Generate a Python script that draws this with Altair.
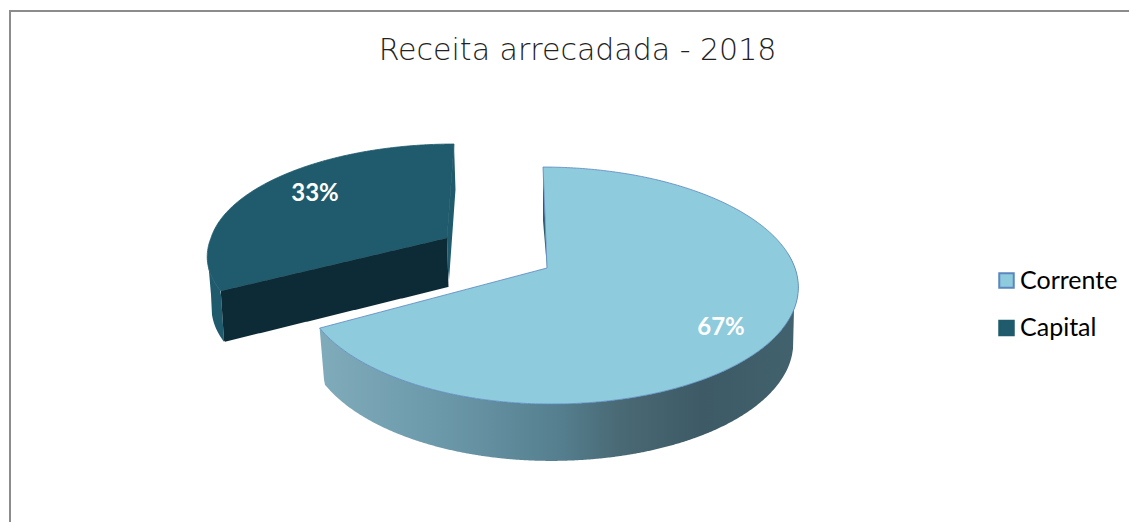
import numpy as np
import pandas as pd
import altair as alt

# --- values
title_text = "Receita arrecadada - 2018"
categories = ["Corrente", "Capital"]
shares = [67, 33]
top_colors = ["#8ecbdc", "#1f5b6c"]
edge_colors = ["#5b86c0", "#1f5b6c"]
label_x = [721, 315]
label_y = [328, 194]
legend_x = 986
legend_y = 260

# perspective ellipse of each disc, in picture units
CORRENTE_TOP = dict(cx=547, cy=268, ar=248, al=243, b=115.9, k=0.148, s=-4, sn=-4)
CORRENTE_LOW = dict(cx=547, cy=323, ar=243, al=238, b=117.5, k=0.148, s=-4, sn=-4)
CAPITAL_TOP = dict(cx=447, cy=238, ar=236, al=236, b=104.2, k=0.109, s=7, sn=16.6)
CAPITAL_LOW = dict(cx=448.5, cy=287, ar=231, al=233, b=108, k=0.109, s=7, sn=18.5)

split = 360 * shares[0] / sum(shares)


def disc(p, deg):
    t = np.radians(np.asarray(deg, dtype=float))
    u, v = np.sin(t), np.cos(t)
    a = np.where(u >= 0, p["ar"], p["al"])
    s = np.where(v >= 0, p["s"], p["sn"])
    d = 1 + p["k"] * v
    return p["cx"] + a * u / d + s * v, p["cy"] - p["b"] * v / d


def polygon(*parts):
    xs = np.concatenate([np.atleast_1d(a) for a, _ in parts])
    ys = np.concatenate([np.atleast_1d(b) for _, b in parts])
    return xs, ys


def envelope(poly):
    xs, ys = poly
    x0, y0, x1, y1 = xs, ys, np.roll(xs, -1), np.roll(ys, -1)
    grid = np.unique(np.concatenate([np.arange(np.ceil(xs.min()), xs.max(), 1.0), [xs.min() + 0.01, xs.max() - 0.01]]))
    rows = []
    for g in grid:
        hit = ((x0 <= g) & (x1 > g)) | ((x1 <= g) & (x0 > g))
        if hit.sum() < 2:
            continue
        yy = y0[hit] + (g - x0[hit]) * (y1[hit] - y0[hit]) / (x1[hit] - x0[hit])
        rows.append((g, yy.min(), yy.max()))
    return pd.DataFrame(rows, columns=["x", "y", "y2"])


def apex(p):
    return np.array([p["cx"]], float), np.array([p["cy"]], float)


arc_right = np.linspace(0, 90, 120)
arc_left = np.linspace(90, split, 200)
arc_small = np.linspace(split, 360, 130)
arc_wall_big = np.linspace(82, split, 200)
arc_wall_small = np.linspace(split, 262, 30)

corrente_face_a = polygon(apex(CORRENTE_TOP), disc(CORRENTE_TOP, arc_right))
corrente_face_b = polygon(apex(CORRENTE_TOP), disc(CORRENTE_TOP, arc_left))
corrente_outline = polygon(apex(CORRENTE_TOP), disc(CORRENTE_TOP, np.linspace(0, split, 300)), apex(CORRENTE_TOP))
corrente_wall = polygon(disc(CORRENTE_TOP, arc_wall_big), disc(CORRENTE_LOW, arc_wall_big[::-1]))
corrente_inner = polygon(disc(CORRENTE_TOP, [0]), disc(CORRENTE_LOW, [0]), apex(CORRENTE_TOP))
capital_face = polygon(apex(CAPITAL_TOP), disc(CAPITAL_TOP, arc_small))
capital_outline = polygon(apex(CAPITAL_TOP), disc(CAPITAL_TOP, arc_small), apex(CAPITAL_TOP))
capital_wall = polygon(disc(CAPITAL_TOP, arc_wall_small), disc(CAPITAL_LOW, arc_wall_small[::-1]))
capital_strip = polygon(disc(CAPITAL_TOP, [360]), disc(CAPITAL_LOW, [360]), apex(CAPITAL_LOW), apex(CAPITAL_TOP))
capital_radial = polygon(apex(CAPITAL_TOP), disc(CAPITAL_TOP, [split]), disc(CAPITAL_LOW, [split]), apex(CAPITAL_LOW))

X = alt.X("x:Q", scale=alt.Scale(domain=[8, 1129], nice=False, zero=False), axis=None)
Y = alt.Y("y:Q", scale=alt.Scale(domain=[522, 8], nice=False, zero=False), axis=None)


def solid(poly, color):
    return alt.Chart(envelope(poly)).mark_area(color=color, interpolate="linear").encode(X, Y, y2="y2:Q")


wall_gradient = alt.Gradient(
    gradient="linear", x1=0, x2=1, y1=0, y2=0,
    stops=[
        alt.GradientStop(color="#7fabba", offset=0),
        alt.GradientStop(color="#6c99aa", offset=0.25),
        alt.GradientStop(color="#557f8f", offset=0.5),
        alt.GradientStop(color="#4a6a76", offset=0.62),
        alt.GradientStop(color="#3d5a66", offset=0.8),
        alt.GradientStop(color="#41626e", offset=1),
    ],
)

color_scale = alt.Scale(domain=categories, range=top_colors)
stroke_scale = alt.Scale(domain=categories, range=edge_colors)
legend = alt.Legend(
    title=None, orient="none", legendX=legend_x, legendY=legend_y,
    symbolType="square", symbolSize=210, symbolStrokeWidth=2, symbolOpacity=1,
    labelFont="Lato", labelFontSize=25, labelColor="#000000", labelOffset=1,
    rowPadding=21.5, labelLimit=200,
)


def face(poly, name):
    d = envelope(poly)
    d["serie"] = name
    return alt.Chart(d).mark_area(interpolate="linear").encode(
        X, Y, y2="y2:Q",
        fill=alt.Fill("serie:N", scale=color_scale, legend=legend, sort=categories),
    )


def outline(poly, name):
    d = pd.DataFrame({"x": poly[0], "y": poly[1], "i": np.arange(len(poly[0])), "serie": name})
    return alt.Chart(d).mark_line(strokeWidth=0.8, interpolate="linear").encode(
        X, Y, order="i:Q",
        stroke=alt.Stroke("serie:N", scale=stroke_scale, legend=legend, sort=categories),
    )


frame_top = pd.DataFrame({"x": [10], "x2": [1129], "y": [11]})
frame_left = pd.DataFrame({"x": [10], "y": [10], "y2": [522]})
frame = [
    alt.Chart(frame_top).mark_rule(color="#8c8c8c", strokeWidth=2).encode(X, Y, x2="x2:Q"),
    alt.Chart(frame_left).mark_rule(color="#8c8c8c", strokeWidth=2).encode(X, Y, y2="y2:Q"),
]

labels = pd.DataFrame({"x": label_x, "y": label_y, "t": [f"{s}%" for s in shares]})
label_layer = alt.Chart(labels).mark_text(
    font="Lato", fontSize=24, fontWeight="bold", color="#ffffff", align="center", baseline="middle"
).encode(X, Y, text="t:N")

wall = alt.Chart(envelope(corrente_wall)).mark_area(color=wall_gradient, interpolate="linear").encode(X, Y, y2="y2:Q")

chart = alt.layer(
    *frame,
    solid(capital_wall, "#1f5b6c"),
    solid(capital_strip, "#1f5b6c"),
    face(capital_face, "Capital"),
    outline(capital_outline, "Capital"),
    solid(capital_radial, "#0c2b37"),
    solid(corrente_inner, "#2f5a6c"),
    wall,
    face(corrente_face_a, "Corrente"),
    face(corrente_face_b, "Corrente"),
    outline(corrente_outline, "Corrente"),
    label_layer,
).properties(
    width=1121, height=514, padding=0, background="#ffffff",
    autosize=alt.AutoSizeParams(type="none"),
    title=alt.TitleParams(
        title_text, font="DejaVu Sans", fontSize=30, fontWeight=200, color="#222222",
        anchor="middle", frame="group", dx=9, dy=58, offset=0,
    ),
).configure_view(stroke=None)

chart.save("out.html", embed_options={"renderer": "svg", "actions": False})
